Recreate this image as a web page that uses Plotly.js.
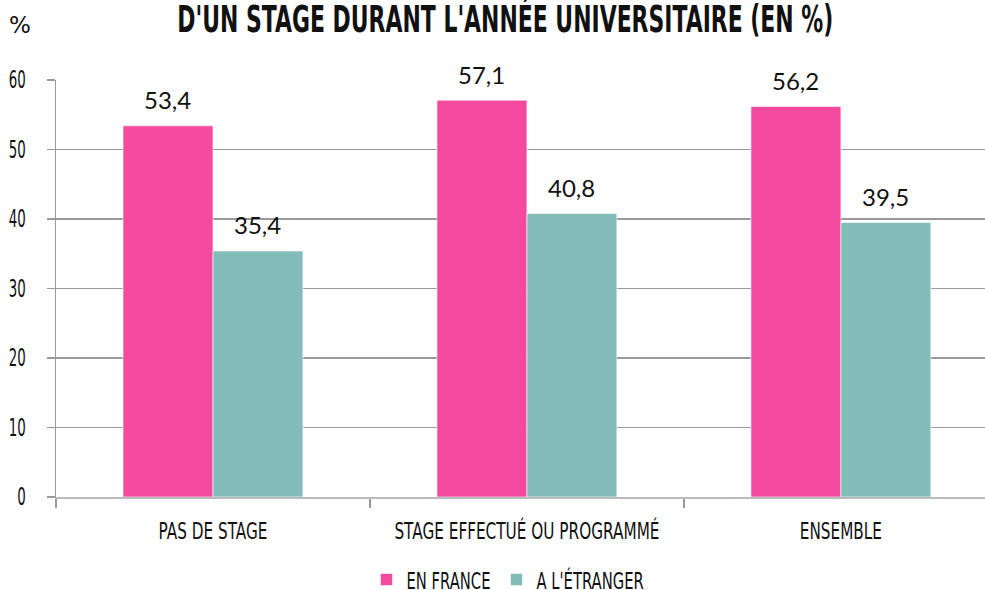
<!DOCTYPE html>
<html><head><meta charset="utf-8">
<script src="https://cdn.plot.ly/plotly-3.0.1.min.js"></script>
<style>body{margin:0;padding:0;background:#fff}#c{width:985px;height:590px}</style>
</head><body><div id="c"></div>
<script>
const categories = ["PAS DE STAGE", "STAGE EFFECTUÉ OU PROGRAMMÉ", "ENSEMBLE"];
const seriesNames = ["EN FRANCE", "A L'ÉTRANGER"];
const enFrance = [53.4, 57.1, 56.2];
const aLEtranger = [35.4, 40.8, 39.5];
const yTicks = [0, 10, 20, 30, 40, 50, 60];

const cond = '"DejaVu Sans", sans-serif';
const lblFont = {family: 'Lato, "Open Sans", sans-serif', size: 24, color: '#111'};

const traces = [
  {type: 'bar', name: seriesNames[0], x: categories, y: enFrance,
   marker: {color: '#F3499F', line: {color: '#ffffff', width: 0.6}}, hoverinfo: 'skip'},
  {type: 'bar', name: seriesNames[1], x: categories, y: aLEtranger,
   marker: {color: '#83BCB9', line: {color: '#ffffff', width: 0.6}}, hoverinfo: 'skip'}
];

const annotations = [{text: '%', xref: 'paper', yref: 'paper', x: -0.0388, y: 1.132,
                 xanchor: 'center', yanchor: 'middle', showarrow: false,
                 font: {family: cond, size: 23, color: '#111'}}];
[enFrance, aLEtranger].forEach((vals, s) => {
  vals.forEach((v, i) => {
    annotations.push({x: categories[i], y: v, xref: 'x', yref: 'y', showarrow: false,
      text: v.toFixed(1).replace('.', ','), xshift: s === 0 ? -45 : 45, yshift: 26,
      yanchor: 'middle', xanchor: 'center', font: lblFont});
  });
});

const layout = {
  width: 985, height: 590,
  margin: {l: 56, r: 0, t: 80, b: 93, autoexpand: false},
  paper_bgcolor: '#fff', plot_bgcolor: '#fff',
  barmode: 'group', bargap: 0.427, bargroupgap: 0,
  showlegend: true,
  legend: {orientation: 'h', x: 0.3342, xanchor: 'left', y: -0.198, yanchor: 'middle',
           entrywidth: 85, entrywidthmode: 'pixels',
           font: {family: cond, size: 23, color: '#111'}, itemwidth: 30, traceorder: 'normal'},
  title: {text: "D'UN STAGE DURANT L'ANNÉE UNIVERSITAIRE (EN %)",
          font: {family: cond, size: 37, color: '#111', weight: 'bold'},
          x: 0.513, xanchor: 'center', y: 0.968, yanchor: 'middle'},
  xaxis: {type: 'category', range: [-0.5, 2.459], tickson: 'boundaries',
          ticks: 'outside', ticklen: 9, tickcolor: '#999', tickwidth: 1.5,
          showline: true, linecolor: '#bbb', linewidth: 2, automargin: false,
          tickangle: 0, ticklabelstandoff: 12,
          showgrid: false, tickfont: {family: cond, size: 23, color: '#111'},
          fixedrange: true},
  yaxis: {range: [0, 60], tickvals: yTicks, ticks: 'outside', ticklen: 8,
          tickcolor: '#999', tickwidth: 1.5, automargin: false,
          showline: true, linecolor: '#999', linewidth: 1.5,
          showgrid: true, gridcolor: '#999', gridwidth: 1.5, zeroline: false,
          tickfont: {family: cond, size: 24, color: '#111'}, ticklabelstandoff: 16,
          fixedrange: true},
  annotations: annotations
};

// condense a group of texts so that the reference element (by its text) reaches the target width
function condense(sel, refText, target) {
  const els = Array.from(document.querySelectorAll(sel));
  if (!els.length) return;
  const ref = els.find(e => e.textContent === refText) || els[0];
  const s = target / ref.getComputedTextLength();
  els.forEach(el => {
    const w = el.getComputedTextLength();
    if (w > 0) {
      el.setAttribute('textLength', (w * s).toFixed(1));
      el.setAttribute('lengthAdjust', 'spacingAndGlyphs');
    }
  });
}
Plotly.newPlot('c', traces, layout, {displayModeBar: false, staticPlot: true}).then(() => {
  condense('.gtitle', null, 656);
  condense('.xtick text', 'PAS DE STAGE', 109);
  condense('.ytick text', '60', 17);
  condense('.legendtext', 'EN FRANCE', 84);
  condense('.annotation:first-of-type .annotation-text', '%', 15);
  document.querySelectorAll('.legend .scrollbox, .legend').forEach(el => el.removeAttribute('clip-path'));
});
</script></body></html>
